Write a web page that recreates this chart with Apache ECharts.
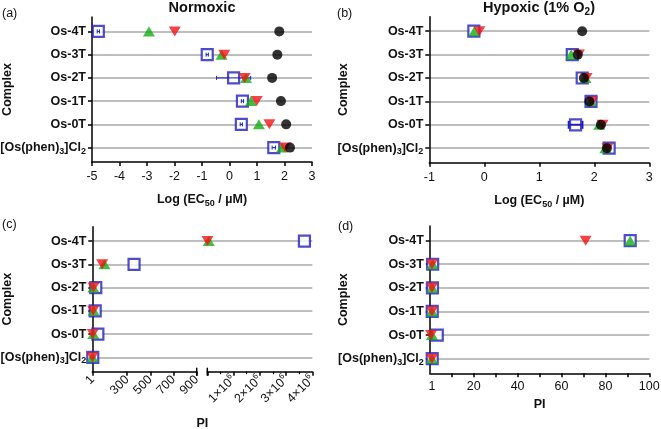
<!DOCTYPE html>
<html><head><meta charset="utf-8">
<script src="https://cdn.jsdelivr.net/npm/echarts@6/dist/echarts.min.js"></script>
<style>html,body{margin:0;padding:0;background:#fff}#c{width:661px;height:429px}</style>
</head><body><div id="c"></div>
<script>
// ---------- data ----------
const categories = ['Os-4T', 'Os-3T', 'Os-2T', 'Os-1T', 'Os-0T', '[Os(phen)3]Cl2'];
// (a) Normoxic log(EC50 / uM)
const normBlue  = [-4.77, -0.81, 0.15, 0.47, 0.43, 1.61];
const normBlueErr = [0.04, 0.04, 0.62, 0.04, 0.04, 0.06];
const normGreen = [-2.93, -0.29, 0.60, 0.78, 1.07, 1.91];
const normRed   = [-1.99, -0.19, 0.55, 0.99, 1.45, 2.02];
const normBlack = [1.81, 1.74, 1.55, 1.87, 2.06, 2.20];
// (b) Hypoxic log(EC50 / uM)
const hypBlue  = [-0.19, 1.60, 1.78, 1.94, 1.66, 2.27];
const hypBlueErr = [0, 0, 0, 0, 0.125, 0];
const hypGreen = [-0.18, 1.58, 1.84, 1.94, 2.09, 2.20];
const hypRed   = [-0.09, 1.72, 1.86, 1.96, 2.15, 2.24];
const hypBlack = [1.78, 1.70, 1.81, 1.91, 2.12, 2.23];
// (c) Normoxic PI
const piNormBlue  = [3700000, 360, 30, 25, 48, 4];
const piNormGreen = [55000, 105, 9, 12, 9.5, 1.9];
const piNormRed   = [6300, 85, 10, 7.6, 4, 1.5];
const piBreak = 900;
const piLeftLabels = [1, 300, 500, 700, 900];
// (d) Hypoxic PI
const piHypBlue  = [91.3, 1.3, 1.2, 1.1, 3.4, 1.1];
const piHypGreen = [91.3, 1.3, 1.1, 1.0, 1.0, 1.0];
const piHypRed   = [71, 1.0, 1.0, 1.0, 0.6, 1.0];
const piHypLabels = [1, 20, 40, 60, 80, 100];
const piHypTicks = [10, 20, 30, 40, 50, 60, 70, 80, 90, 100];
const rowIdx = [0, 1, 2, 3, 4, 5];

// ---------- style ----------
const FONT = '"Liberation Sans", Arial, sans-serif';
const BLUE = '#1f1fc0', GREEN = '#14ad14', RED = '#f01414', BLACK = '#000';
const TXT = '#111';
const rich = {
  b: { fontFamily: FONT, fontSize: 12.5, fontWeight: 'bold', color: TXT, lineHeight: 16 },
  s: { fontFamily: FONT, fontSize: 9, fontWeight: 'bold', color: TXT, lineHeight: 16, padding: [7, 0, 0, 0] },
  r: { fontFamily: FONT, fontSize: 12.5, color: TXT, lineHeight: 16 },
  sup: { fontFamily: FONT, fontSize: 8, color: TXT, lineHeight: 16, padding: [0, 0, 8, 0] }
};
const toRich = s => '{b|' + s.replace(/([\)l])(\d)/g, '$1}{s|$2}{b|') + '}';

const Y_MIN = -0.62, Y_MAX = 5.62;
function yAxis(gi, show, nameGap) {
  return {
    type: 'value', gridIndex: gi, inverse: true, min: Y_MIN, max: Y_MAX,
    axisLine: { show: show, onZero: false, lineStyle: { color: BLACK, width: 1.5 } },
    axisTick: { show: show, customValues: rowIdx, length: 4, lineStyle: { color: BLACK, width: 1.5 } },
    axisLabel: { show: show, customValues: rowIdx, margin: 6, formatter: v => toRich(categories[v]), rich: rich },
    splitLine: { show: show, lineStyle: { color: '#a8a8a8', width: 1.5 } },
    name: show ? 'Complex' : '', nameLocation: 'middle', nameGap: nameGap || 0, nameMoveOverlap: false,
    nameTextStyle: { fontFamily: FONT, fontSize: 12.5, fontWeight: 'bold', color: TXT }
  };
}
const axLine = { show: true, onZero: false, lineStyle: { color: BLACK, width: 1.5 } };
const axTick = { show: true, length: 4, lineStyle: { color: BLACK, width: 1.5 } };
const lblStyle = { fontFamily: FONT, fontSize: 12.5, color: TXT };
const logName = '{b|Log (EC}{s|50}{b| / µM)}';

const grids = [
  { left: 92, top: 17, width: 220, height: 145 },        // a
  { left: 429.3, top: 16.7, width: 220, height: 146 },   // b
  { left: 92.3, top: 226.7, width: 220, height: 145 },   // c background
  { left: 92.3, top: 226.7, width: 104.4, height: 145 }, // c left segment
  { left: 207.3, top: 226.7, width: 105, height: 145 },  // c right segment
  { left: 429.8, top: 226, width: 219.5, height: 147.3 } // d
].map(g => Object.assign({ outerBoundsMode: 'none', containLabel: false }, g));

const nameCommon = { nameLocation: 'middle', nameMoveOverlap: false };
const xAxes = [
  Object.assign({ type: 'value', gridIndex: 0, min: -5, max: 3, interval: 1, axisLine: axLine, axisTick: axTick,
    axisLabel: Object.assign({ margin: 8 }, lblStyle), splitLine: { show: false },
    name: logName, nameGap: 30, nameTextStyle: { rich: rich } }, nameCommon),
  Object.assign({ type: 'value', gridIndex: 1, min: -1, max: 3, interval: 1, axisLine: axLine, axisTick: axTick,
    axisLabel: Object.assign({ margin: 8 }, lblStyle), splitLine: { show: false },
    name: logName, nameGap: 30, nameTextStyle: { rich: rich } }, nameCommon),
  Object.assign({ type: 'value', gridIndex: 2, min: 0, max: 1, axisLine: { show: false }, axisTick: { show: false },
    axisLabel: { show: false }, splitLine: { show: false },
    name: 'PI', nameGap: 45,
    nameTextStyle: { fontFamily: FONT, fontSize: 12.5, fontWeight: 'bold', color: TXT } }, nameCommon),
  { type: 'value', gridIndex: 3, min: 0, max: piBreak, axisLine: axLine,
    axisTick: Object.assign({ customValues: piLeftLabels }, axTick),
    axisLabel: Object.assign({ customValues: piLeftLabels, rotate: 45, margin: 6 }, lblStyle),
    splitLine: { show: false } },
  { type: 'value', gridIndex: 4, min: 0, max: 4000000, interval: 1000000, axisLine: axLine, axisTick: axTick,
    minorTick: { show: true, splitNumber: 2, length: 2.5, lineStyle: { color: BLACK, width: 1.2 } },
    axisLabel: { rotate: 45, margin: 6, rich: rich, showMinLabel: false,
      formatter: v => v === 0 ? '' : '{r|' + (v / 1e6) + '×10}{sup|6}' },
    splitLine: { show: false }, minorSplitLine: { show: false } },
  Object.assign({ type: 'value', gridIndex: 5, min: 0, max: 100, axisLine: axLine,
    axisTick: Object.assign({ customValues: piHypTicks }, axTick),
    axisLabel: Object.assign({ customValues: piHypLabels, margin: 7 }, lblStyle),
    splitLine: { show: false },
    name: 'PI', nameGap: 25,
    nameTextStyle: { fontFamily: FONT, fontSize: 12.5, fontWeight: 'bold', color: TXT } }, nameCommon)
];
const yAxes = [yAxis(0, true, 78), yAxis(1, true, 79), yAxis(2, true, 78), yAxis(3, false), yAxis(4, false), yAxis(5, true, 80)];

const pts = arr => arr.map((v, i) => [v, i]);
const blueS = (xi, data) => ({ type: 'scatter', xAxisIndex: xi, yAxisIndex: xi, data: data, symbol: 'rect', symbolSize: 11,
  itemStyle: { color: '#fff', borderColor: BLUE, borderWidth: 2.2 }, z: 2 });
const greenS = (xi, data) => ({ type: 'scatter', xAxisIndex: xi, yAxisIndex: xi, data: data, symbol: 'triangle', symbolSize: [12, 10],
  itemStyle: { color: GREEN }, z: 4 });
const redS = (xi, data) => ({ type: 'scatter', xAxisIndex: xi, yAxisIndex: xi, data: data, symbol: 'triangle', symbolRotate: 180, symbolSize: [12, 10],
  itemStyle: { color: RED }, z: 5 });
const blackS = (xi, data) => ({ type: 'scatter', xAxisIndex: xi, yAxisIndex: xi, data: data, symbol: 'circle', symbolSize: 10,
  itemStyle: { color: BLACK }, z: 6 });
const errS = (xi, vals, errs, lw, cap) => ({
  type: 'custom', xAxisIndex: xi, yAxisIndex: xi, z: 3,
  data: vals.map((v, i) => [v - errs[i], v + errs[i], i]).filter((d, i) => errs[i] > 0),
  encode: { x: [0, 1], y: 2 },
  renderItem: (params, api) => {
    const y = api.value(2);
    const lo = api.coord([api.value(0), y]), hi = api.coord([api.value(1), y]);
    const st = { stroke: BLUE, lineWidth: lw };
    return { type: 'group', children: [
      { type: 'line', shape: { x1: lo[0], y1: lo[1], x2: hi[0], y2: hi[1] }, style: st },
      { type: 'line', shape: { x1: lo[0], y1: lo[1] - cap, x2: lo[0], y2: lo[1] + cap }, style: st },
      { type: 'line', shape: { x1: hi[0], y1: hi[1] - cap, x2: hi[0], y2: hi[1] + cap }, style: st }
    ] };
  }
});
const leftPart = arr => arr.map((v, i) => [v, i]).filter(d => d[0] <= piBreak);
const rightPart = arr => arr.map((v, i) => [v, i]).filter(d => d[0] > piBreak);

const series = [
  blueS(0, pts(normBlue)), errS(0, normBlue, normBlueErr, 1, 2), greenS(0, pts(normGreen)), redS(0, pts(normRed)), blackS(0, pts(normBlack)),
  blueS(1, pts(hypBlue)), errS(1, hypBlue, hypBlueErr, 2, 4), greenS(1, pts(hypGreen)), redS(1, pts(hypRed)), blackS(1, pts(hypBlack)),
  blueS(3, leftPart(piNormBlue)), greenS(3, leftPart(piNormGreen)), redS(3, leftPart(piNormRed)),
  blueS(4, rightPart(piNormBlue)), greenS(4, rightPart(piNormGreen)), redS(4, rightPart(piNormRed)),
  blueS(5, pts(piHypBlue)), greenS(5, pts(piHypGreen)), redS(5, pts(piHypRed))
];
series.forEach(s => { s.silent = true; s.animation = false; s.clip = false; });

const txt = (text, x, y, opts) => ({ type: 'text', x: x, y: y, silent: true,
  style: Object.assign({ text: text, fontFamily: FONT, fontSize: 12, fill: TXT, align: 'left', verticalAlign: 'middle' }, opts || {}) });
const titleRich = {
  t: { fontFamily: FONT, fontSize: 14.5, fontWeight: 'bold', fill: TXT, color: TXT, lineHeight: 18 },
  ts: { fontFamily: FONT, fontSize: 10, fontWeight: 'bold', fill: TXT, color: TXT, lineHeight: 18, padding: [8, 0, 0, 0] }
};

const chart = echarts.init(document.getElementById('c'), null, { renderer: 'canvas' });
chart.setOption({
  animation: false,
  backgroundColor: '#fff',
  grid: grids,
  xAxis: xAxes,
  yAxis: yAxes,
  series: series
});

// axis-break caps located through the library's own scales
const capY = chart.convertToPixel({ gridIndex: 3 }, [piBreak, Y_MAX]);
const capY2 = chart.convertToPixel({ gridIndex: 4 }, [0, Y_MAX]);
const capLine = (p) => ({ type: 'line', silent: true, shape: { x1: p[0], y1: p[1] - 4, x2: p[0], y2: p[1] + 4 },
  style: { stroke: BLACK, lineWidth: 1.5 } });

chart.setOption({
  graphic: [
    txt('', 202, 8, { align: 'center', rich: titleRich, text: '{t|Normoxic}' }),
    txt('', 539, 8, { align: 'center', rich: titleRich, text: '{t|Hypoxic (1% O}{ts|2}{t|)}' }),
    txt('(a)', 2, 13.5, { fontSize: 12.5 }),
    txt('(b)', 337, 13.5, { fontSize: 12.5 }),
    txt('(c)', 2, 225, { fontSize: 12.5 }),
    txt('(d)', 338, 226.5, { fontSize: 12.5 }),
    capLine(capY), capLine(capY2)
  ]
});
</script>
</body></html>
